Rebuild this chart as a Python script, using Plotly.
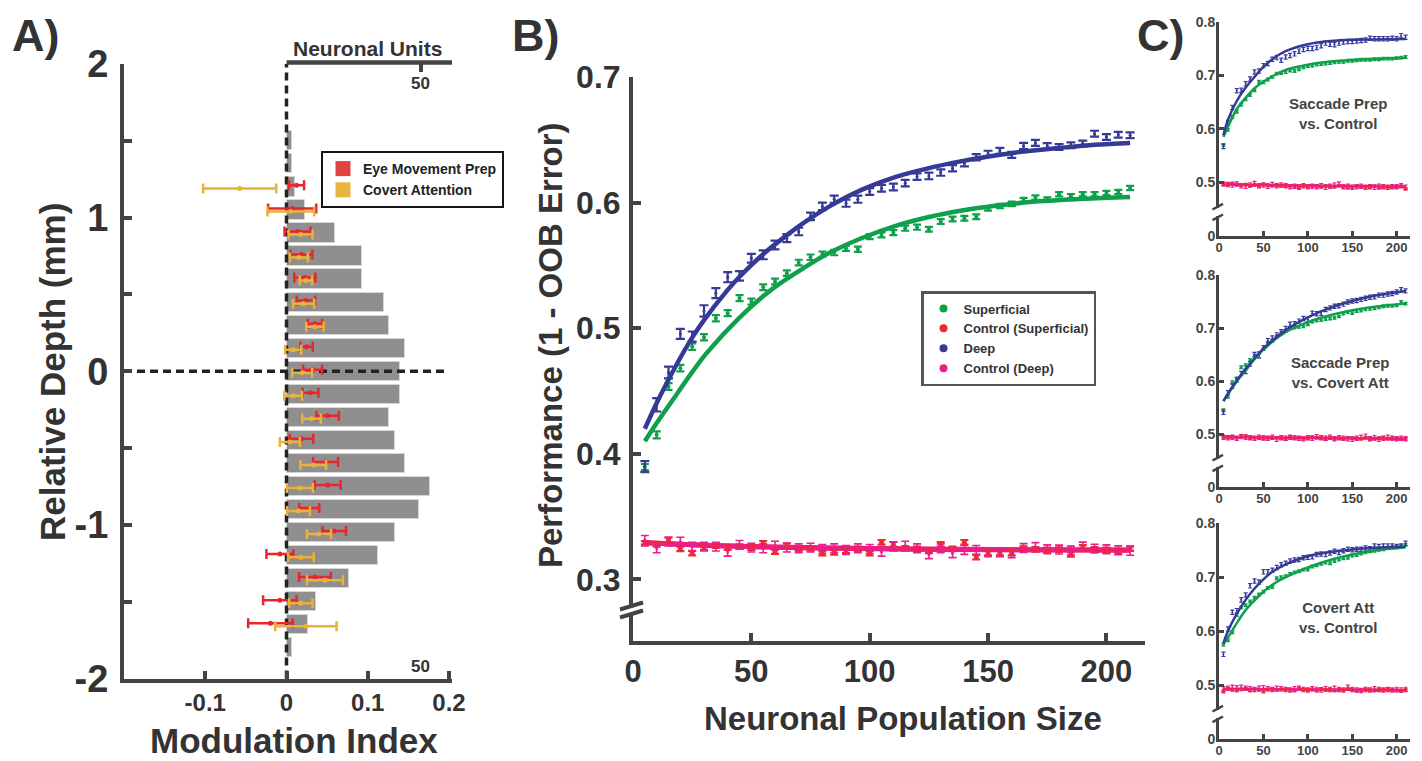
import plotly.graph_objects as go

# The page body adds an 8px margin, so the figure is 8px smaller and all pixel
# positions (measured on the full 1422x761 window) are shifted by OFF.
OFF = 8
W, H = 1422 - OFF, 761 - OFF
FONT = "Liberation Sans, Arial, Helvetica, sans-serif"
TXT = "#333333"
AXC = "#444444"

RED_A = "#e8262c"
YEL_A = "#ebb23a"
GREEN = "#0fa04c"
BLUE = "#363a97"
RED = "#ee2a2c"
MAG = "#e91e8c"
BAR_GRAY = "#908e8f"

# ---------------- Panel A data ----------------
depth_mm = [1.5, 1.35, 1.2, 1.05, 0.9, 0.75, 0.6, 0.45, 0.3, 0.15, 0.0, -0.15, -0.3,
            -0.45, -0.6, -0.75, -0.9, -1.05, -1.2, -1.35, -1.5, -1.65, -1.8]
unit_counts = [2, 2, 3, 7, 18, 28, 28, 36, 38, 44, 42, 42, 38, 40, 44, 53, 49, 40, 34,
               23, 11, 8, 2]

mi_depth = [1.2, 1.05, 0.9, 0.75, 0.6, 0.45, 0.3, 0.15, 0.0, -0.15, -0.3, -0.45, -0.6,
            -0.75, -0.9, -1.05, -1.2, -1.35, -1.5, -1.65]
eye_mi = [0.0123, 0.007, 0.0136, 0.0185, 0.0226, 0.0239, 0.035, 0.0247, 0.0321, 0.0296,
          0.0506, 0.0185, 0.0481, 0.0506, 0.028, 0.0588, -0.0082, 0.035, -0.0082, -0.0198]
eye_err = [0.0093, 0.0296, 0.016, 0.0134, 0.013, 0.0113, 0.0088, 0.0076, 0.0117, 0.0097,
           0.0138, 0.0144, 0.0154, 0.016, 0.0123, 0.0144, 0.0165, 0.0195, 0.0206, 0.0274]
cov_mi = [-0.0576, 0.0053, 0.0173, 0.0152, 0.0239, 0.021, 0.035, 0.0082, 0.0193, 0.0082,
          0.0309, 0.0041, 0.0329, 0.0165, 0.0148, 0.04, 0.0177, 0.0473, 0.0177, 0.0239]
cov_err = [0.045, 0.0288, 0.0148, 0.011, 0.0076, 0.013, 0.0107, 0.0099, 0.0123, 0.0109,
           0.0115, 0.0123, 0.0158, 0.016, 0.014, 0.0148, 0.0158, 0.0222, 0.0144, 0.0377]

# ---------------- Panel B data ----------------
pop_size = [5, 10, 15, 20, 25, 30, 35, 40, 45, 50, 55, 60, 65, 70, 75, 80, 85, 90, 95, 100,
            105, 110, 115, 120, 125, 130, 135, 140, 145, 150, 155, 160, 165, 170, 175, 180,
            185, 190, 195, 200, 205, 210]
deep_perf = [0.3899, 0.439, 0.4647, 0.4955, 0.4934, 0.5138, 0.5279, 0.5406, 0.5417, 0.5557,
             0.5584, 0.5663, 0.5717, 0.577, 0.589, 0.597, 0.6027, 0.5995, 0.6027, 0.6088,
             0.6115, 0.6124, 0.6155, 0.6207, 0.6212, 0.6239, 0.6274, 0.6314, 0.6361, 0.6388,
             0.6412, 0.638, 0.6451, 0.6475, 0.645, 0.6443, 0.6456, 0.647, 0.6549, 0.6523,
             0.654, 0.6536]
deep_err = [0.0044, 0.0053, 0.0047, 0.0040, 0.0040, 0.0045, 0.0040, 0.0040, 0.0038, 0.0035,
            0.0035, 0.0035, 0.0032, 0.0030, 0.0030, 0.0030, 0.0028, 0.0028, 0.0028, 0.0027,
            0.0027, 0.0027, 0.0026, 0.0026, 0.0026, 0.0025, 0.0025, 0.0025, 0.0025, 0.0025,
            0.0024, 0.0024, 0.0024, 0.0024, 0.0024, 0.0023, 0.0023, 0.0023, 0.0023, 0.0023,
            0.0023, 0.0023]
sup_perf = [0.3895, 0.4151, 0.4536, 0.4682, 0.4854, 0.4928, 0.508, 0.512, 0.5239, 0.5212,
            0.5326, 0.5372, 0.5438, 0.5523, 0.5565, 0.5590, 0.5602, 0.5637, 0.5629, 0.5729,
            0.5743, 0.5761, 0.5796, 0.5804, 0.5788, 0.5849, 0.5870, 0.5875, 0.5888, 0.5955,
            0.5973, 0.5990, 0.6019, 0.6040, 0.6024, 0.6066, 0.6050, 0.6066, 0.6066, 0.6077,
            0.6085, 0.6117]
sup_err = [0.0025, 0.0028, 0.0027, 0.0026, 0.0026, 0.0025, 0.0025, 0.0024, 0.0024, 0.0023,
           0.0023, 0.0023, 0.0022, 0.0022, 0.0022, 0.0021, 0.0021, 0.0021, 0.0021, 0.0020,
           0.0020, 0.0020, 0.0020, 0.0020, 0.0019, 0.0019, 0.0019, 0.0019, 0.0019, 0.0018,
           0.0018, 0.0018, 0.0018, 0.0018, 0.0018, 0.0017, 0.0017, 0.0017, 0.0017, 0.0017,
           0.0017, 0.0017]
ctrl_sup_perf = [0.3288, 0.3280, 0.3315, 0.3243, 0.3209, 0.3253, 0.3269, 0.3253, 0.3261, 0.3253,
                 0.3288, 0.3221, 0.3269, 0.3243, 0.3248, 0.3209, 0.3216, 0.3227, 0.3243, 0.3209,
                 0.3296, 0.3280, 0.3248, 0.3243, 0.3227, 0.3280, 0.3243, 0.3296, 0.3177, 0.3209,
                 0.3209, 0.3209, 0.3245, 0.3240, 0.3235, 0.3238, 0.3200, 0.3255, 0.3240, 0.3235,
                 0.3225, 0.3245]
ctrl_deep_perf = [0.3315, 0.3248, 0.3301, 0.3301, 0.3261, 0.3261, 0.3261, 0.3221, 0.3275, 0.3253,
                  0.3248, 0.3269, 0.3253, 0.3248, 0.3253, 0.3243, 0.3248, 0.3235, 0.3248, 0.3243,
                  0.3221, 0.3261, 0.3269, 0.3248, 0.3201, 0.3248, 0.3209, 0.3235, 0.3235, 0.3216,
                  0.3216, 0.3209, 0.3250, 0.3258, 0.3240, 0.3238, 0.3230, 0.3262, 0.3245, 0.3240,
                  0.3232, 0.3228]

fit_deep_x = [5, 10, 15, 20, 25, 30, 40, 45, 55, 66, 73, 83, 97, 111, 125, 139, 153, 164, 180, 195, 210]
fit_deep_y = [0.420, 0.4405, 0.459, 0.4765, 0.4925, 0.5065, 0.5305, 0.541, 0.559, 0.5755, 0.585,
              0.597, 0.6105, 0.6205, 0.6275, 0.633, 0.6375, 0.6405, 0.6435, 0.646, 0.6475]
fit_sup_x = [5, 10, 17, 25, 31, 45, 59, 73, 83, 97, 111, 125, 139, 153, 171, 190, 210]
fit_sup_y = [0.410, 0.4245, 0.4435, 0.465, 0.480, 0.5085, 0.5315, 0.549, 0.560, 0.572, 0.5815,
             0.5885, 0.5937, 0.5975, 0.601, 0.603, 0.6045]
fit_ctrl_x = [5, 30, 60, 85, 120, 164, 210]
fit_ctrl_sup_y = [0.3292, 0.3272, 0.3257, 0.3249, 0.3241, 0.3236, 0.3233]
fit_ctrl_deep_y = [0.3295, 0.3273, 0.3258, 0.3250, 0.3242, 0.3237, 0.3234]

# ---------------- Panel C data ----------------
c_fit_x = [5, 10, 20, 30, 40, 50, 60, 75, 100, 125, 150, 175, 210]
c_ctrl_fit_x = [5, 210]

c1_deep = [0.567, 0.612, 0.640, 0.671, 0.672, 0.684, 0.693, 0.706, 0.708, 0.718,
           0.722, 0.730, 0.733, 0.728, 0.734, 0.737, 0.740, 0.745, 0.748, 0.750,
           0.750, 0.752, 0.755, 0.760, 0.758, 0.757, 0.760, 0.762, 0.763, 0.763,
           0.764, 0.765, 0.766, 0.769, 0.768, 0.768, 0.768, 0.768, 0.769, 0.768,
           0.774, 0.771]
c1_sup = [0.570, 0.598, 0.622, 0.632, 0.645, 0.655, 0.663, 0.672, 0.688, 0.687,
          0.692, 0.697, 0.703, 0.704, 0.706, 0.709, 0.708, 0.711, 0.715, 0.717,
          0.718, 0.720, 0.721, 0.722, 0.723, 0.724, 0.725, 0.725, 0.727, 0.727,
          0.728, 0.729, 0.729, 0.729, 0.730, 0.730, 0.731, 0.731, 0.731, 0.732,
          0.733, 0.734]
c1_ctrl_sup = [0.497, 0.497, 0.498, 0.496, 0.495, 0.496, 0.494, 0.495, 0.493, 0.496,
               0.495, 0.494, 0.495, 0.494, 0.493, 0.494, 0.492, 0.491, 0.493, 0.492,
               0.494, 0.493, 0.492, 0.493, 0.491, 0.492, 0.494, 0.492, 0.490, 0.492,
               0.493, 0.491, 0.492, 0.491, 0.493, 0.490, 0.491, 0.492, 0.491, 0.492,
               0.493, 0.488]
c1_ctrl_deep = [0.497, 0.496, 0.495, 0.497, 0.494, 0.493, 0.495, 0.498, 0.494, 0.495,
                0.493, 0.496, 0.494, 0.495, 0.494, 0.492, 0.493, 0.491, 0.494, 0.492,
                0.493, 0.492, 0.494, 0.491, 0.493, 0.495, 0.497, 0.492, 0.493, 0.491,
                0.492, 0.493, 0.491, 0.492, 0.491, 0.493, 0.492, 0.491, 0.492, 0.492,
                0.494, 0.491]
c1_fit_deep = [0.588, 0.6165, 0.652, 0.677, 0.697, 0.7155, 0.730, 0.745, 0.758, 0.764, 0.7665, 0.767, 0.7675]
c1_fit_sup = [0.585, 0.603, 0.637, 0.658, 0.676, 0.688, 0.698, 0.710, 0.7197, 0.7255, 0.7286, 0.7305, 0.7325]
c1_fit_ctrl = [0.496, 0.492]

c2_deep = [0.541, 0.578, 0.590, 0.602, 0.614, 0.618, 0.632, 0.650, 0.647, 0.663,
           0.676, 0.681, 0.687, 0.693, 0.699, 0.707, 0.708, 0.713, 0.718, 0.716,
           0.728, 0.727, 0.728, 0.735, 0.738, 0.741, 0.742, 0.745, 0.749, 0.751,
           0.752, 0.754, 0.756, 0.758, 0.759, 0.762, 0.762, 0.764, 0.765, 0.768,
           0.772, 0.770]
c2_sup = [0.545, 0.570, 0.598, 0.605, 0.626, 0.630, 0.640, 0.648, 0.653, 0.660,
          0.672, 0.676, 0.684, 0.690, 0.695, 0.700, 0.701, 0.702, 0.703, 0.707,
          0.712, 0.714, 0.715, 0.717, 0.718, 0.719, 0.722, 0.727, 0.730, 0.728,
          0.732, 0.733, 0.735, 0.736, 0.737, 0.739, 0.741, 0.742, 0.742, 0.743,
          0.749, 0.746]
c2_ctrl_sup = [0.495, 0.494, 0.495, 0.493, 0.497, 0.496, 0.492, 0.493, 0.492, 0.491,
               0.493, 0.492, 0.493, 0.492, 0.490, 0.494, 0.492, 0.493, 0.491, 0.492,
               0.494, 0.493, 0.492, 0.490, 0.493, 0.491, 0.492, 0.491, 0.493, 0.492,
               0.490, 0.491, 0.493, 0.490, 0.491, 0.492, 0.493, 0.491, 0.492, 0.491,
               0.490, 0.491]
c2_ctrl_deep = [0.494, 0.493, 0.494, 0.492, 0.495, 0.494, 0.493, 0.492, 0.494, 0.493,
                0.492, 0.494, 0.490, 0.493, 0.492, 0.494, 0.493, 0.492, 0.491, 0.493,
                0.492, 0.495, 0.493, 0.492, 0.494, 0.491, 0.493, 0.492, 0.491, 0.490,
                0.492, 0.494, 0.496, 0.491, 0.493, 0.490, 0.492, 0.494, 0.492, 0.491,
                0.492, 0.491]
c2_fit_deep = [0.562, 0.576, 0.601, 0.623, 0.643, 0.661, 0.676, 0.696, 0.720, 0.738, 0.751, 0.761, 0.770]
c2_fit_sup = [0.562, 0.575, 0.599, 0.620, 0.641, 0.659, 0.674, 0.692, 0.711, 0.724, 0.7335, 0.740, 0.746]
c2_fit_ctrl = [0.494, 0.491]

c3_deep = [0.557, 0.604, 0.635, 0.638, 0.658, 0.667, 0.684, 0.693, 0.691, 0.710,
           0.710, 0.713, 0.718, 0.723, 0.726, 0.730, 0.732, 0.733, 0.736, 0.737,
           0.738, 0.742, 0.743, 0.742, 0.745, 0.748, 0.746, 0.749, 0.752, 0.751,
           0.752, 0.752, 0.754, 0.753, 0.758, 0.757, 0.758, 0.758, 0.758, 0.757,
           0.758, 0.763]
c3_sup = [0.575, 0.583, 0.598, 0.630, 0.644, 0.648, 0.655, 0.662, 0.668, 0.673,
          0.680, 0.682, 0.698, 0.700, 0.702, 0.706, 0.709, 0.711, 0.714, 0.714,
          0.720, 0.722, 0.725, 0.727, 0.726, 0.730, 0.733, 0.735, 0.736, 0.740,
          0.741, 0.744, 0.746, 0.748, 0.749, 0.751, 0.752, 0.754, 0.755, 0.756,
          0.758, 0.760]
c3_ctrl_sup = [0.488, 0.493, 0.491, 0.490, 0.492, 0.493, 0.490, 0.493, 0.491, 0.488,
               0.492, 0.493, 0.491, 0.492, 0.493, 0.491, 0.490, 0.493, 0.492, 0.491,
               0.492, 0.490, 0.493, 0.491, 0.492, 0.490, 0.492, 0.491, 0.493, 0.492,
               0.490, 0.491, 0.492, 0.491, 0.490, 0.492, 0.491, 0.493, 0.491, 0.490,
               0.489, 0.491]
c3_ctrl_deep = [0.493, 0.494, 0.496, 0.495, 0.496, 0.494, 0.493, 0.492, 0.494, 0.495,
                0.493, 0.492, 0.494, 0.493, 0.492, 0.491, 0.493, 0.494, 0.492, 0.491,
                0.493, 0.492, 0.491, 0.493, 0.492, 0.494, 0.492, 0.491, 0.496, 0.492,
                0.491, 0.490, 0.492, 0.491, 0.493, 0.492, 0.491, 0.492, 0.491, 0.492,
                0.491, 0.492]
c3_fit_deep = [0.578, 0.600, 0.632, 0.658, 0.679, 0.696, 0.710, 0.724, 0.739, 0.7467, 0.7515, 0.7545, 0.7564]
c3_fit_sup = [0.577, 0.588, 0.615, 0.639, 0.657, 0.673, 0.686, 0.700, 0.718, 0.732, 0.742, 0.7497, 0.7558]
c3_fit_ctrl = [0.493, 0.491]

c_titles = ["Saccade Prep<br>vs. Control", "Saccade Prep<br>vs. Covert Att", "Covert Att<br>vs. Control"]
c_tick_vals = [0.4, 0.5, 0.6, 0.7, 0.8]
c_tick_text = ["0", "0.5", "0.6", "0.7", "0.8"]


def px(x):
    return (x - OFF) / W


def py(y):
    return 1 - (y - OFF) / H


fig = go.Figure()

# ---------------- Panel A traces ----------------
fig.add_trace(go.Bar(y=depth_mm, x=unit_counts, orientation="h", xaxis="x", yaxis="y",
                     width=0.125, marker=dict(color=BAR_GRAY, line=dict(color="#d6d6d6", width=1)),
                     showlegend=False, hoverinfo="skip"))
# reference dashed lines at zero
fig.add_trace(go.Scatter(x=[0, 0], y=[-2, 2], mode="lines", xaxis="x2", yaxis="y",
                         line=dict(color="#222222", width=3.5, dash="8px,5px"), showlegend=False,
                         hoverinfo="skip"))
fig.add_trace(go.Scatter(x=[-0.2, 0.2], y=[0, 0], mode="lines", xaxis="x2", yaxis="y",
                         line=dict(color="#222222", width=3.5, dash="8px,5px"), showlegend=False,
                         hoverinfo="skip"))
fig.add_trace(go.Scatter(x=eye_mi, y=[d + 0.01 for d in mi_depth], mode="markers", xaxis="x2", yaxis="y",
                         marker=dict(color=RED_A, size=5),
                         error_x=dict(type="data", array=eye_err, color=RED_A, thickness=2.5, width=5),
                         showlegend=False))
fig.add_trace(go.Scatter(x=cov_mi, y=[d - 0.01 for d in mi_depth], mode="markers", xaxis="x2", yaxis="y",
                         marker=dict(color=YEL_A, size=5),
                         error_x=dict(type="data", array=cov_err, color=YEL_A, thickness=2.5, width=5),
                         showlegend=False))
# legend entries for panel A
fig.add_trace(go.Scatter(x=[None], y=[None], mode="markers", xaxis="x2", yaxis="y", name="Eye Movement Prep",
                         marker=dict(symbol="square", size=15, color="#e34242"), legend="legend"))
fig.add_trace(go.Scatter(x=[None], y=[None], mode="markers", xaxis="x2", yaxis="y", name="Covert Attention",
                         marker=dict(symbol="square", size=15, color="#e9b440"), legend="legend"))

# ---------------- Panel B traces ----------------
fig.add_trace(go.Scatter(x=pop_size, y=sup_perf, mode="markers", xaxis="x3", yaxis="y3",
                         marker=dict(color=GREEN, size=4),
                         error_y=dict(type="data", array=sup_err, color=GREEN, thickness=2.2, width=4),
                         showlegend=False))
fig.add_trace(go.Scatter(x=fit_sup_x, y=fit_sup_y, mode="lines", xaxis="x3", yaxis="y3",
                         line=dict(color=GREEN, width=4.5, shape="spline"), showlegend=False))
fig.add_trace(go.Scatter(x=pop_size, y=deep_perf, mode="markers", xaxis="x3", yaxis="y3",
                         marker=dict(color=BLUE, size=3),
                         error_y=dict(type="data", array=deep_err, color=BLUE, thickness=2.2, width=4.5),
                         showlegend=False))
fig.add_trace(go.Scatter(x=fit_deep_x, y=fit_deep_y, mode="lines", xaxis="x3", yaxis="y3",
                         line=dict(color=BLUE, width=4.5, shape="spline"), showlegend=False))
fig.add_trace(go.Scatter(x=fit_ctrl_x, y=fit_ctrl_sup_y, mode="lines", xaxis="x3", yaxis="y3",
                         line=dict(color=RED, width=5, shape="spline"), showlegend=False))
fig.add_trace(go.Scatter(x=fit_ctrl_x, y=fit_ctrl_deep_y, mode="lines", xaxis="x3", yaxis="y3",
                         line=dict(color=MAG, width=5, shape="spline"), showlegend=False))
fig.add_trace(go.Scatter(x=pop_size, y=ctrl_sup_perf, mode="markers", xaxis="x3", yaxis="y3",
                         marker=dict(color=RED, size=5),
                         error_y=dict(type="constant", value=0.0018, color=RED, thickness=2.2, width=4),
                         showlegend=False))
fig.add_trace(go.Scatter(x=pop_size, y=ctrl_deep_perf, mode="markers", xaxis="x3", yaxis="y3",
                         marker=dict(color=MAG, size=3),
                         error_y=dict(type="constant", value=0.0035, color=MAG, thickness=1.6, width=4),
                         showlegend=False))
# legend entries for panel B
for nm, col in [("Superficial", GREEN), ("Control (Superficial)", RED), ("Deep", BLUE),
                ("Control (Deep)", MAG)]:
    fig.add_trace(go.Scatter(x=[None], y=[None], mode="markers", xaxis="x3", yaxis="y3", name=nm,
                             marker=dict(symbol="circle", size=8, color=col), legend="legend2"))

# ---------------- Panel C traces ----------------
c_sets = [
    (c1_deep, c1_sup, c1_ctrl_sup, c1_ctrl_deep, c1_fit_deep, c1_fit_sup, c1_fit_ctrl),
    (c2_deep, c2_sup, c2_ctrl_sup, c2_ctrl_deep, c2_fit_deep, c2_fit_sup, c2_fit_ctrl),
    (c3_deep, c3_sup, c3_ctrl_sup, c3_ctrl_deep, c3_fit_deep, c3_fit_sup, c3_fit_ctrl),
]
for i, (dp, sp, cs, cd, fd, fs, fc) in enumerate(c_sets):
    xa, ya = "x%d" % (4 + i), "y%d" % (4 + i)
    fig.add_trace(go.Scatter(x=pop_size, y=sp, mode="markers", xaxis=xa, yaxis=ya,
                             marker=dict(color=GREEN, size=3),
                             error_y=dict(type="constant", value=0.0025, color=GREEN, thickness=1.2, width=2),
                             showlegend=False))
    fig.add_trace(go.Scatter(x=pop_size, y=dp, mode="markers", xaxis=xa, yaxis=ya,
                             marker=dict(color=BLUE, size=2),
                             error_y=dict(type="constant", value=0.004, color=BLUE, thickness=1.2, width=2),
                             showlegend=False))
    fig.add_trace(go.Scatter(x=c_fit_x, y=fs, mode="lines", xaxis=xa, yaxis=ya,
                             line=dict(color=GREEN, width=2.5, shape="spline"), showlegend=False))
    fig.add_trace(go.Scatter(x=c_fit_x, y=fd, mode="lines", xaxis=xa, yaxis=ya,
                             line=dict(color=BLUE, width=2.5, shape="spline"), showlegend=False))
    fig.add_trace(go.Scatter(x=c_ctrl_fit_x, y=fc, mode="lines", xaxis=xa, yaxis=ya,
                             line=dict(color=MAG, width=2.5), showlegend=False))
    fig.add_trace(go.Scatter(x=pop_size, y=cs, mode="markers", xaxis=xa, yaxis=ya,
                             marker=dict(color=RED, size=3.5, symbol="square"),
                             error_y=dict(type="constant", value=0.002, color=RED, thickness=1.2, width=2),
                             showlegend=False))
    fig.add_trace(go.Scatter(x=pop_size, y=cd, mode="markers", xaxis=xa, yaxis=ya,
                             marker=dict(color=MAG, size=2),
                             error_y=dict(type="constant", value=0.004, color=MAG, thickness=1.2, width=2),
                             showlegend=False))

# ---------------- Layout ----------------
AX = dict(showgrid=False, zeroline=False, showline=True, linecolor=AXC, linewidth=4,
          ticks="inside", tickcolor=AXC, tickwidth=4, ticklen=8, automargin=False,
          tickfont=dict(family=FONT, color=TXT, weight="bold"))

layout = dict(
    width=W, height=H, margin=dict(l=0, r=0, t=0, b=0, autoexpand=False),
    paper_bgcolor="white", plot_bgcolor="rgba(0,0,0,0)",
    font=dict(family=FONT, color=TXT),
    showlegend=True,
    bargap=0,
)

# Panel A axes: x = neuronal units (top), x2 = modulation index (bottom), y = depth
layout["xaxis"] = dict(domain=[px(124), px(452)], range=[-60.2, 61.3], side="top", anchor="y",
                       showgrid=False, zeroline=False, showline=False, ticks="inside", automargin=False,
                       tickvals=[50], ticklen=8, tickwidth=4, tickcolor=AXC, showticklabels=False)
layout["xaxis2"] = dict(AX, overlaying="x", anchor="y", side="bottom", range=[-0.2, 0.2037],
                        tickvals=[-0.1, 0, 0.1, 0.2], ticktext=["-0.1", "0", "0.1", "0.2"],
                        tickfont=dict(family=FONT, color=TXT, weight="bold", size=24))
layout["yaxis"] = dict(AX, domain=[py(678.5), py(64)], range=[-2, 2], anchor="x",
                       tickvals=[-2, -1.5, -1, -0.5, 0, 0.5, 1, 1.5, 2],
                       ticktext=["-2", "", "-1", "", "0", "", "1", "", "2"],
                       tickfont=dict(family=FONT, color=TXT, weight="bold", size=38),
                       ticklabelstandoff=4)

# Panel B axes
layout["xaxis3"] = dict(AX, domain=[px(633), px(1145)], range=[0, 216.3], anchor="y3",
                        tickvals=[0, 50, 100, 150, 200],
                        tickfont=dict(family=FONT, color=TXT, weight="bold", size=31))
layout["yaxis3"] = dict(AX, domain=[py(640.5), py(77)], range=[0.2514, 0.7], anchor="x3",
                        tickvals=[0.3, 0.4, 0.5, 0.6, 0.7], ticktext=["0.3", "0.4", "0.5", "0.6", "0.7"],
                        tickfont=dict(family=FONT, color=TXT, weight="bold", size=32),
                        ticklabelstandoff=2)

# Panel C axes
c_dom = [(21.7, 236), (275, 487), (523.3, 739)]
for i, (top, bot) in enumerate(c_dom):
    n = 4 + i
    layout["xaxis%d" % n] = dict(AX, domain=[px(1219), px(1410)], range=[0, 215], anchor="y%d" % n,
                                 linewidth=3, tickwidth=2.5, ticklen=5,
                                 tickvals=[0, 50, 100, 150, 200], ticklabelstandoff=-3,
                                 tickfont=dict(family=FONT, color="#444", weight="bold", size=13))
    layout["yaxis%d" % n] = dict(AX, domain=[py(bot), py(top)], range=[0.4, 0.8], anchor="x%d" % n,
                                 linewidth=3, tickwidth=2.5, ticklen=5, ticklabelstandoff=-2,
                                 tickvals=c_tick_vals, ticktext=c_tick_text,
                                 tickfont=dict(family=FONT, color="#444", weight="bold", size=14))

layout["legend"] = dict(x=px(321), y=py(151), xanchor="left", yanchor="top",
                        bgcolor="white", bordercolor="#151515", borderwidth=2,
                        font=dict(family=FONT, size=14, color="#222", weight="bold"),
                        itemwidth=30, tracegroupgap=0)
layout["legend2"] = dict(x=px(921), y=py(291), xanchor="left", yanchor="top",
                         bgcolor="white", bordercolor="#555", borderwidth=2.5,
                         font=dict(family=FONT, size=13, color="#333", weight="bold"),
                         itemwidth=30, tracegroupgap=0)

# ---------------- Annotations ----------------
ann = []


def add_text(text, x, y, size, angle=0, xanchor="center", yanchor="middle", color=TXT):
    ann.append(dict(text=text, x=px(x), y=py(y), xref="paper", yref="paper", showarrow=False,
                    xanchor=xanchor, yanchor=yanchor, textangle=angle,
                    font=dict(family=FONT, size=size, color=color, weight="bold")))


# panel letters: box top aligned with the top of the figure so nothing is clipped
add_text("A)", 10, OFF, 45, xanchor="left", yanchor="top")
add_text("B)", 510, OFF, 45, xanchor="left", yanchor="top")
add_text("C)", 1135, OFF, 45, xanchor="left", yanchor="top")
add_text("Relative Depth (mm)", 52, 372, 35, angle=-90)
add_text("Modulation Index", 294, 740, 35)
add_text("Neuronal Units", 367, 49, 21)
add_text("50", 420, 83, 17)
add_text("50", 420, 666, 17)
add_text("Performance (1 - OOB Error)", 550, 345, 33, angle=-90)
add_text("Neuronal Population Size", 903, 718, 33)
for (cx, cy), t in zip([(1338, 114), (1340, 372), (1338, 617)], c_titles):
    add_text(t, cx, cy, 15, color="#444")
layout["annotations"] = ann

# ---------------- Shapes (axis decorations) ----------------
shapes = []
# top "Neuronal Units" axis line
shapes.append(dict(type="line", xref="x", yref="paper", x0=0, x1=61.3, y0=py(62.5), y1=py(62.5),
                   line=dict(color=AXC, width=4.5)))
# axis break in B
shapes.append(dict(type="rect", xref="paper", yref="paper", x0=px(626), x1=px(638),
                   y0=py(614.5), y1=py(606), fillcolor="white", line=dict(width=0)))
for yc in (606, 614):
    shapes.append(dict(type="line", xref="paper", yref="paper", x0=px(620), x1=px(643),
                       y0=py(yc + 3.5), y1=py(yc - 3.5), line=dict(color=AXC, width=4)))
# axis breaks in C
for yc in (212, 463, 714):
    shapes.append(dict(type="rect", xref="paper", yref="paper", x0=px(1214), x1=px(1222),
                       y0=py(yc + 4), y1=py(yc - 4), fillcolor="white", line=dict(width=0)))
    for ys in (yc - 5.3, yc + 5.3):
        shapes.append(dict(type="line", xref="paper", yref="paper", x0=px(1212.5), x1=px(1223),
                           y0=py(ys + 2.8), y1=py(ys - 2.8), line=dict(color=AXC, width=2.5)))
layout["shapes"] = shapes

fig.update_layout(**layout)
fig.write_html("out.html")
